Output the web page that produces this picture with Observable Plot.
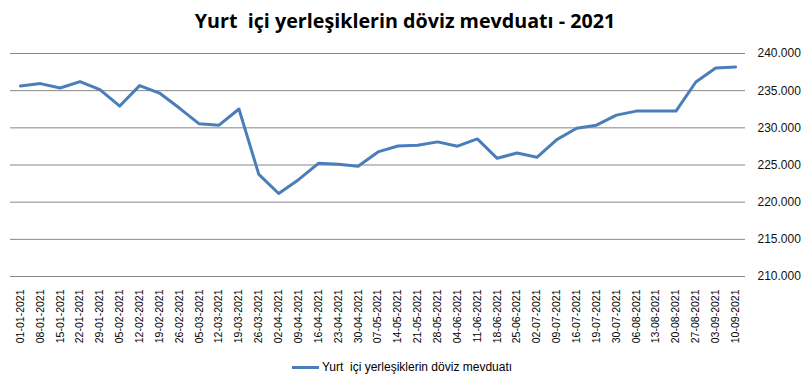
<!DOCTYPE html>
<html>
<head>
<meta charset="utf-8">
<script src="https://cdn.jsdelivr.net/npm/d3@7"></script>
<script src="https://cdn.jsdelivr.net/npm/@observablehq/plot@0.6"></script>
<style>
  body { margin: 0; background: #fff; width: 806px; height: 384px; overflow: hidden; }
  #title { height: 40px; line-height: 41px; text-align: center; font-family: "Open Sans", sans-serif; font-weight: bold; font-size: 19.7px; color: #000; white-space: pre; padding-left: 4px; }
  #legend { height: 34px; display: flex; align-items: center; justify-content: flex-start; padding-left: 292px; font-family: "Liberation Sans", Arial, sans-serif; font-size: 12px; color: #000; white-space: pre; }
  #legend .sw { display: inline-block; width: 27px; height: 3px; background: #4a7ebb; margin-right: 3px; }
  svg { display: block; }
</style>
</head>
<body>
<div id="title">Yurt  içi yerleşiklerin döviz mevduatı - 2021</div>
<div id="chart"></div>
<div id="legend"><span class="sw"></span><span>Yurt  içi yerleşiklerin döviz mevduatı</span></div>
<script>
const dates = ["01-01-2021","08-01-2021","15-01-2021","22-01-2021","29-01-2021","05-02-2021","12-02-2021","19-02-2021","26-02-2021","05-03-2021","12-03-2021","19-03-2021","26-03-2021","02-04-2021","09-04-2021","16-04-2021","23-04-2021","30-04-2021","07-05-2021","14-05-2021","21-05-2021","28-05-2021","04-06-2021","11-06-2021","18-06-2021","25-06-2021","02-07-2021","09-07-2021","16-07-2021","19-07-2021","30-07-2021","06-08-2021","13-08-2021","20-08-2021","27-08-2021","03-09-2021","10-09-2021"];
const values = [235630,235950,235360,236220,235140,232930,235680,234680,232660,230540,230360,232530,223740,221170,223020,225230,225090,224820,226760,227560,227660,228110,227530,228510,225900,226620,226040,228420,229950,230360,231710,232250,232250,232250,236170,238060,238200];
const yTicks = [210000,215000,220000,225000,230000,235000,240000];
const seriesName = "Yurt  içi yerleşiklerin döviz mevduatı";

const data = dates.map((d, i) => ({date: d, value: values[i]}));
const fmt = d3.formatLocale({decimal: ",", thousands: ".", grouping: [3], currency: ["", ""]}).format(",");

const chart = Plot.plot({
  width: 806,
  height: 310,
  marginTop: 13,
  marginBottom: 74,
  marginLeft: 10,
  marginRight: 61,
  style: {background: "#fff", color: "#000"},
  x: {type: "point", domain: dates, padding: 0.5},
  y: {domain: [210000, 240000]},
  marks: [
    Plot.gridY(yTicks, {stroke: "#868686", strokeOpacity: 1, strokeWidth: 1}),
    Plot.axisY(yTicks, {anchor: "right", tickSize: 0, tickPadding: 12, tickFormat: fmt, label: null, fontSize: 12, fontFamily: "Liberation Sans, Arial, sans-serif", fill: "#111"}),
    Plot.axisX({tickRotate: -90, tickSize: 0, tickPadding: 13, label: null, fontSize: 10.5, fontFamily: "Liberation Sans, Arial, sans-serif", fill: "#000"}),
    Plot.line(data, {x: "date", y: "value", stroke: "#4a7ebb", strokeWidth: 3, strokeLinejoin: "round", strokeLinecap: "round"})
  ]
});
document.getElementById("chart").appendChild(chart);
</script>
</body>
</html>
